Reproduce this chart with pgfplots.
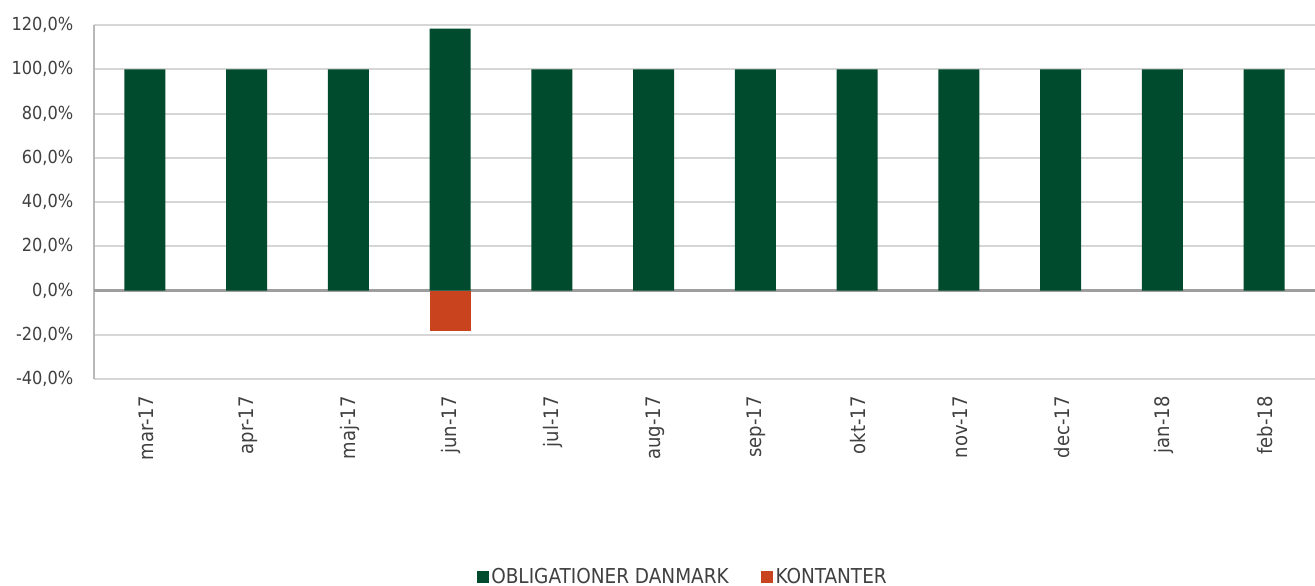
\documentclass[border=0pt]{standalone}
\usepackage{fontspec}
\setmainfont{DejaVu Sans Condensed}
\usepackage{pgfplots}
\pgfplotsset{compat=1.18}
\definecolor{obl}{HTML}{004B2D}
\definecolor{kont}{HTML}{C8431E}
\definecolor{txt}{HTML}{404040}
\begin{document}
\begin{tikzpicture}
\path[use as bounding box] (0,0) rectangle (986.25pt,439.5pt);
\begin{axis}[
  at={(70.5pt,155.25pt)}, anchor=south west,
  scale only axis, width=915.75pt, height=265.5pt,
  ybar, bar shift=0pt, bar width=30.75pt,
  xmin=-0.5, xmax=11.5, ymin=-40, ymax=120,
  xtick={0,...,11},
  xticklabels={mar-17,apr-17,maj-17,jun-17,jul-17,aug-17,sep-17,okt-17,nov-17,dec-17,jan-18,feb-18},
  x tick label style={rotate=90, anchor=east, font=\fontsize{15}{17}\selectfont, text=txt, xshift=-9.5pt, yshift=-1pt},
  ytick={-40,-20,...,120},
  yticklabel={\pgfmathprintnumber[fixed,fixed zerofill,precision=1,use comma,assume math mode=true]{\tick}\%},
  y tick label style={font=\fontsize{13.5}{15}\selectfont, text=txt, xshift=-12pt},
  /pgf/number format/assume math mode=true,
  major tick length=0pt,
  ymajorgrids, grid style={color=black!16, line width=1.5pt},
  axis x line*=bottom, axis y line*=left,
  x axis line style={draw=none},
  y axis line style={draw=black!28, line width=1.5pt},
  extra y ticks={0}, extra y tick labels={},
  extra y tick style={grid style={color=black!38, line width=1.6pt}},
  legend columns=2,
  legend style={at={(0.4824,-0.559)}, anchor=center, draw=none, fill=none,
    font=\fontsize{15.4}{17}\selectfont, text=txt,
    /tikz/every even column/.append style={column sep=22pt}},
  legend image code/.code={\fill[#1] (0pt,-4.5pt) rectangle (9pt,4.5pt);},
]
\addplot[fill=obl, draw=none] coordinates {(0,100) (1,100) (2,100) (3,118.4) (4,100) (5,100) (6,100) (7,100) (8,100) (9,100) (10,100) (11,100)};
\addplot[fill=kont, draw=none] coordinates {(3,-18.4)};
\legend{OBLIGATIONER DANMARK, KONTANTER}
\end{axis}
\end{tikzpicture}
\end{document}
